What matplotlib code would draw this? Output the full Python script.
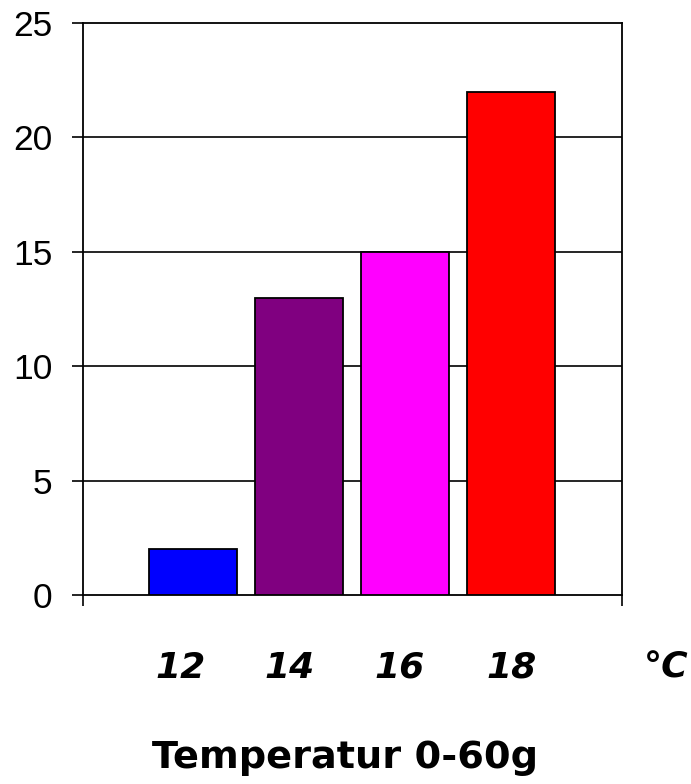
import matplotlib
matplotlib.use("Agg")
import matplotlib.pyplot as plt

# ── Data ────────────────────────────────────────────────────────────────────
temps = ["12", "14", "16", "18"]
counts = [2, 13, 15, 22]
bar_colors = ["#0000FF", "#800080", "#FF00FF", "#FF0000"]

# row of labels under the axis (last one is the unit)
label_texts = ["12", "14", "16", "18", "\u00b0C"]
label_pos = [-0.12, 0.915, 1.95, 3.01, 4.47]

y_ticks = [0, 5, 10, 15, 20, 25]
title = "Temperatur 0-60g"

# ── Figure ──────────────────────────────────────────────────────────────────
fig = plt.figure(figsize=(6.91, 7.84), dpi=100)
ax = fig.add_axes([0.1201, 0.2411, 0.78, 0.7296])

xs = list(range(len(counts)))
ax.bar(xs, counts, width=0.83, color=bar_colors, edgecolor="black",
       linewidth=1.3, zorder=3)

ax.set_xlim(-1.04, 4.05)
ax.set_ylim(0, 25)
ax.set_yticks(y_ticks)
ax.set_yticklabels([str(t) for t in y_ticks], fontfamily="Liberation Sans",
                   fontsize=25.5)
ax.tick_params(axis="y", direction="out", length=8, width=1.2, pad=14,
               colors="black")

# category ticks only at the two ends of the axis
ax.set_xticks([-1.04, 4.05])
ax.set_xticklabels([])
ax.tick_params(axis="x", direction="out", length=8, width=1.2)

for y in y_ticks[1:-1]:
    ax.axhline(y, color="black", linewidth=1.2, zorder=1)

for side in ["left", "right", "top", "bottom"]:
    ax.spines[side].set_linewidth(1.3)
    ax.spines[side].set_color("black")

tr = ax.get_xaxis_transform()
for txt, xp in zip(label_texts, label_pos):
    ax.text(xp, -0.1276, txt, transform=tr, ha="center", va="center",
            fontfamily="DejaVu Sans", fontweight="bold", fontstyle="oblique",
            fontsize=26, clip_on=False)

fig.text(0.5, 0.0204, title, ha="center", va="baseline",
         fontfamily="DejaVu Sans", fontweight="bold", fontsize=27.5)

fig.savefig("out.png", dpi=100)
